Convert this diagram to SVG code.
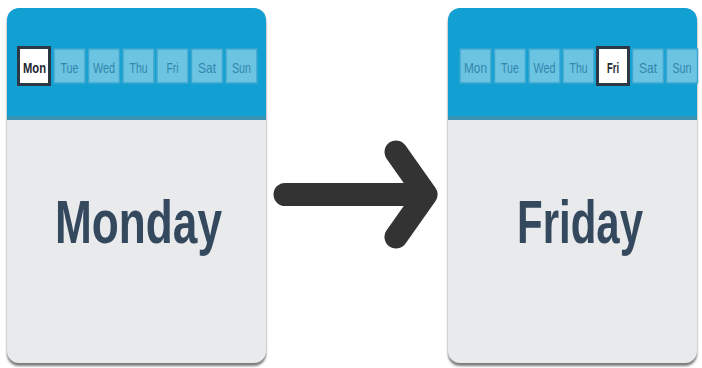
<svg xmlns="http://www.w3.org/2000/svg" width="702" height="368" viewBox="0 0 702 368">
<style>
.shadow{fill:#7d7d7d}
.body{fill:#e9eaec}
.head{fill:#12a0d3}
.band{fill:#3a93b4}
.day{fill:#6cc4e3;stroke:#3ba6cf;stroke-width:1.5}
.sel{fill:#ffffff;stroke:#2d3846;stroke-width:3}
.dt{font-family:"Liberation Sans",Arial,sans-serif;font-size:15px;fill:#3386ab;text-anchor:middle}
.st{font-family:"Liberation Sans",Arial,sans-serif;font-size:15px;font-weight:bold;fill:#1e2630;text-anchor:middle}
.big{font-family:"Liberation Sans",Arial,sans-serif;font-size:62px;font-weight:bold;fill:#34495e}
</style>
<defs>
<filter id="blur" x="-5%" y="-5%" width="110%" height="110%"><feGaussianBlur stdDeviation="0.8"/></filter>
<clipPath id="clipL"><rect x="7" y="8" width="259" height="355" rx="12"/></clipPath>
<clipPath id="clipR"><rect x="448" y="8" width="249" height="355" rx="12"/></clipPath>
</defs>

<g id="card-monday">
<rect class="shadow" x="7" y="11" width="259" height="355" rx="12" filter="url(#blur)"/>
<g clip-path="url(#clipL)">
<rect class="body" x="7" y="8" width="259" height="355"/>
<rect class="head" x="7" y="8" width="259" height="112"/>
<rect class="band" x="7" y="116" width="259" height="4"/>
</g>
<rect class="sel" x="18.5" y="47.5" width="31" height="37"/>
<rect class="day" x="54" y="49" width="31" height="34"/>
<rect class="day" x="88.5" y="49" width="31" height="34"/>
<rect class="day" x="123" y="49" width="31" height="34"/>
<rect class="day" x="157" y="49" width="31" height="34"/>
<rect class="day" x="191.5" y="49" width="31" height="34"/>
<rect class="day" x="226" y="49" width="31" height="34"/>
<text class="st" x="34.5" y="72.5" textLength="23" lengthAdjust="spacingAndGlyphs">Mon</text>
<text class="dt" x="69.5" y="72.5" textLength="18" lengthAdjust="spacingAndGlyphs">Tue</text>
<text class="dt" x="104" y="72.5" textLength="22" lengthAdjust="spacingAndGlyphs">Wed</text>
<text class="dt" x="138.5" y="72.5" textLength="18" lengthAdjust="spacingAndGlyphs">Thu</text>
<text class="dt" x="172.5" y="72.5" textLength="12" lengthAdjust="spacingAndGlyphs">Fri</text>
<text class="dt" x="207" y="72.5" textLength="18" lengthAdjust="spacingAndGlyphs">Sat</text>
<text class="dt" x="241.5" y="72.5" textLength="19" lengthAdjust="spacingAndGlyphs">Sun</text>
<text class="big" x="55" y="243" textLength="167" lengthAdjust="spacingAndGlyphs">Monday</text>
</g>

<g id="card-friday">
<rect class="shadow" x="448" y="11" width="249" height="355" rx="12" filter="url(#blur)"/>
<g clip-path="url(#clipR)">
<rect class="body" x="448" y="8" width="249" height="355"/>
<rect class="head" x="448" y="8" width="249" height="112"/>
<rect class="band" x="448" y="116" width="249" height="4"/>
</g>
<rect class="day" x="460" y="49" width="31" height="34"/>
<rect class="day" x="494.5" y="49" width="31" height="34"/>
<rect class="day" x="529" y="49" width="31" height="34"/>
<rect class="day" x="563" y="49" width="31" height="34"/>
<rect class="sel" x="597.5" y="47.5" width="31" height="37"/>
<rect class="day" x="632.5" y="49" width="31" height="34"/>
<rect class="day" x="666.5" y="49" width="31" height="34"/>
<text class="dt" x="475.5" y="72.5" textLength="23" lengthAdjust="spacingAndGlyphs">Mon</text>
<text class="dt" x="510" y="72.5" textLength="18" lengthAdjust="spacingAndGlyphs">Tue</text>
<text class="dt" x="544.5" y="72.5" textLength="22" lengthAdjust="spacingAndGlyphs">Wed</text>
<text class="dt" x="578.5" y="72.5" textLength="18" lengthAdjust="spacingAndGlyphs">Thu</text>
<text class="st" x="613" y="72.5" textLength="12" lengthAdjust="spacingAndGlyphs">Fri</text>
<text class="dt" x="648" y="72.5" textLength="18" lengthAdjust="spacingAndGlyphs">Sat</text>
<text class="dt" x="682" y="72.5" textLength="19" lengthAdjust="spacingAndGlyphs">Sun</text>
<text class="big" x="517" y="243" textLength="126" lengthAdjust="spacingAndGlyphs">Friday</text>
</g>

<g id="connectors" fill="none" stroke="#333333" stroke-width="23" stroke-linecap="round" stroke-linejoin="round">
<path d="M 285 194.5 H 424"/>
<path d="M 396 152 L 426 194.5 L 396 237"/>
</g>
</svg>
